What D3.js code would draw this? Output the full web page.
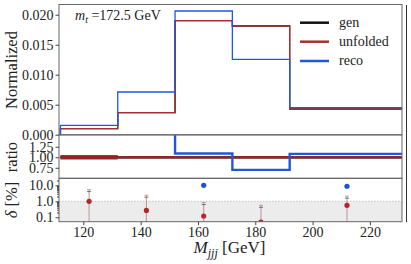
<!DOCTYPE html><html><head><meta charset="utf-8">
<script src="https://cdn.jsdelivr.net/npm/d3@7"></script>
<style>body{margin:0;background:#fff}svg{display:block}</style></head><body><svg id="c" width="411" height="264"></svg>
<script>
const binEdges=[112,132,152,172,192,232];
const binCenters=[122,142,162,182,212];
const genVals=[0.0010,0.00367,0.0190,0.01812,0.00428];
const unfoldedVals=[0.0010,0.00367,0.0190,0.01812,0.00428];
const recoVals=[0.00157,0.00712,0.02062,0.01257,0.0045];
const ratioReco=[1.67,1.94,1.09,0.70,1.08];
const ratioUnfolded=[1,1,1,1,1];
const ratioGen=[1,1,1,1,1];
const deltaUnf=[1.0,0.27,0.12,0.05,0.56];
const deltaUnfUp=[5.4,2.4,0.83,0.56,2.1];
const deltaUnfLo=[0.02,0.02,0.02,0.02,0.02];
const deltaReco=[null,null,10.0,null,8.7];
const yTicksMain=[0,0.005,0.010,0.015,0.020];
const yTicksRatio=[0.75,1.00,1.25];
const yTicksDelta=[0.1,1,10];
const xTicks=[120,140,160,180,200,220];
const legendLabels=["gen","unfolded","reco"];

const C={gen:"#111",unf:"#a5302f",reco:"#2057e0",frame:"#666"};
const FONT="'Liberation Serif','DejaVu Serif',serif";
const svg=d3.select("#c");
const L=59,R=402;
const x=d3.scaleLinear().domain([111.5,231.2]).range([L,R]);
const yM=d3.scaleLinear().domain([0,0.0217]).range([134.7,4.5]);
const yR=d3.scaleLinear().domain([0.5,1.53]).range([178.3,135]);
const yD=d3.scaleLog().domain([0.053,27.4]).range([221.7,178.3]);

const defs=svg.append("defs");
function clip(id,y0,y1){defs.append("clipPath").attr("id",id).append("rect").attr("x",L).attr("y",y0).attr("width",R-L).attr("height",y1-y0);}
clip("cm",4.5,134.7);clip("cr",135,178.3);clip("cd",178.3,221.7);

function stepPath(vals,ys,base){
  let p=`M${x(binEdges[0])},${ys(base)}`;
  vals.forEach((v,i)=>{p+=`L${x(binEdges[i])},${ys(v)}L${x(binEdges[i+1])},${ys(v)}`;});
  p+=`L${x(binEdges[vals.length])},${ys(base)}`;
  return p;
}
// delta shaded region
const gD=svg.append("g").attr("clip-path","url(#cd)");
gD.append("rect").attr("x",L).attr("y",yD(1)).attr("width",R-L).attr("height",221.7-yD(1)).attr("fill","#ececec");
gD.append("line").attr("x1",L).attr("x2",R).attr("y1",yD(1)).attr("y2",yD(1)).attr("stroke","#bbb").attr("stroke-width",0.8).attr("stroke-dasharray","1.5,1.5");

// main histos
const gM=svg.append("g").attr("clip-path","url(#cm)");
gM.append("path").attr("d",stepPath(genVals,yM,0)).attr("fill","none").attr("stroke",C.gen).attr("stroke-width",1.3);
gM.append("path").attr("d",stepPath(unfoldedVals,yM,0)).attr("fill","none").attr("stroke",C.unf).attr("stroke-width",1.3);
gM.append("path").attr("d",stepPath(recoVals,yM,0)).attr("fill","none").attr("stroke",C.reco).attr("stroke-width",1.3);

// ratio
const gR=svg.append("g").attr("clip-path","url(#cr)");
gR.append("path").attr("d",stepPath(ratioGen,yR,1)).attr("fill","none").attr("stroke",C.gen).attr("stroke-width",2.5);
gR.append("rect").attr("x",x(binEdges[0])).attr("y",yR(1)-2.2).attr("width",x(binEdges[1])-x(binEdges[0])).attr("height",4.4).attr("fill","#8a2a2a");
gR.append("path").attr("d",stepPath(ratioUnfolded,yR,1)).attr("fill","none").attr("stroke","#8e2626").attr("stroke-width",2.6);
gR.append("path").attr("d",stepPath(ratioReco,yR,ratioReco[0])).attr("fill","none").attr("stroke",C.reco).attr("stroke-width",2.4);

// delta points
binCenters.forEach((c,i)=>{
  gD.append("line").attr("x1",x(c)).attr("x2",x(c)).attr("y1",yD(deltaUnfLo[i])).attr("y2",yD(deltaUnfUp[i])).attr("stroke","#b58a8a").attr("stroke-width",0.9);
  gD.append("line").attr("x1",x(c)-2).attr("x2",x(c)+2).attr("y1",yD(deltaUnfUp[i])).attr("y2",yD(deltaUnfUp[i])).attr("stroke","#c99").attr("stroke-width",1);
  gD.append("line").attr("x1",x(c)-2).attr("x2",x(c)+2).attr("y1",yD(deltaUnfUp[i])+2).attr("y2",yD(deltaUnfUp[i])+2).attr("stroke","#555").attr("stroke-width",0.8);
  gD.append("circle").attr("cx",x(c)).attr("cy",yD(deltaUnf[i])).attr("r",2.6).attr("fill","#b02828");
  if(deltaReco[i]!=null) gD.append("circle").attr("cx",x(c)).attr("cy",yD(deltaReco[i])).attr("r",2.6).attr("fill","#1a50e8");
});

// frames
function frame(y0,y1){svg.append("rect").attr("x",L).attr("y",y0).attr("width",R-L).attr("height",y1-y0).attr("fill","none").attr("stroke",C.frame).attr("stroke-width",1);}
frame(4.5,134.7);frame(135,178.3);frame(178.3,221.7);
svg.append("line").attr("x1",406.5).attr("x2",406.5).attr("y1",5).attr("y2",222).attr("stroke","#333").attr("stroke-width",1);

// axes
function styleAxis(g){g.selectAll("text").attr("font-family",FONT).attr("font-size",14).attr("fill","#222");g.selectAll("line").attr("stroke","#444");g.select(".domain").remove();}
svg.append("g").attr("transform",`translate(${L},0)`).call(d3.axisLeft(yM).tickValues(yTicksMain).tickFormat(d3.format(".3f")).tickSize(3.5).tickPadding(2)).call(styleAxis);
svg.append("g").attr("transform",`translate(${L},0)`).call(d3.axisLeft(yR).tickValues(yTicksRatio).tickFormat(d3.format(".2f")).tickSize(3.5).tickPadding(2)).call(styleAxis);
svg.append("g").attr("transform",`translate(${L},0)`).call(d3.axisLeft(yD).tickValues(yTicksDelta).tickFormat(d3.format(".1f")).tickSize(3.5).tickPadding(2)).call(styleAxis);
const minor=[];[0.1,1,10].forEach(d=>{for(let k=2;k<10;k++){const v=d*k;if(v<27.4)minor.push(v);}});
svg.append("g").attr("transform",`translate(${L},0)`).call(d3.axisLeft(yD).tickValues(minor).tickFormat("").tickSize(2)).call(styleAxis);
svg.append("g").attr("transform",`translate(0,221.7)`).call(d3.axisBottom(x).tickValues(xTicks).tickFormat(d3.format("d")).tickSize(3.5).tickPadding(1.5)).call(styleAxis);

// labels
function vlabel(txt,cy){return svg.append("text").attr("transform",`translate(17,${cy}) rotate(-90)`).attr("text-anchor","middle").attr("font-family",FONT).attr("font-size",16.5).attr("fill","#222").text(txt);}
vlabel("Normalized",70);
vlabel("ratio",157);
const dl=svg.append("text").attr("transform",`translate(17,200) rotate(-90)`).attr("text-anchor","middle").attr("font-family",FONT).attr("font-size",16.5).attr("fill","#222");
dl.append("tspan").attr("font-style","italic").text("δ");dl.append("tspan").text(" [%]");

const xl=svg.append("text").attr("x",229.5).attr("y",253).attr("text-anchor","middle").attr("font-family",FONT).attr("font-size",17).attr("fill","#222");
xl.append("tspan").attr("font-style","italic").text("M");
xl.append("tspan").attr("font-style","italic").attr("font-size",12).attr("dy",3.5).text("jjj");
xl.append("tspan").attr("dy",-3.5).text(" [GeV]");

const mt=svg.append("text").attr("x",75).attr("y",19.5).attr("font-family",FONT).attr("font-size",14).attr("fill","#222");
mt.append("tspan").attr("font-style","italic").text("m");
mt.append("tspan").attr("font-style","italic").attr("font-size",10).attr("dy",3).text("t");
mt.append("tspan").attr("dy",-3).text(" =172.5 GeV");

// legend
const lc=[C.gen,C.unf,C.reco];
const ly=[22.7,41.7,61];
legendLabels.forEach((t,i)=>{
  svg.append("line").attr("x1",300).attr("x2",329).attr("y1",ly[i]).attr("y2",ly[i]).attr("stroke",lc[i]).attr("stroke-width",2.5);
  svg.append("text").attr("x",339).attr("y",ly[i]).attr("dy","0.32em").attr("font-family",FONT).attr("font-size",14).attr("fill","#222").text(t);
});
</script></body></html>
